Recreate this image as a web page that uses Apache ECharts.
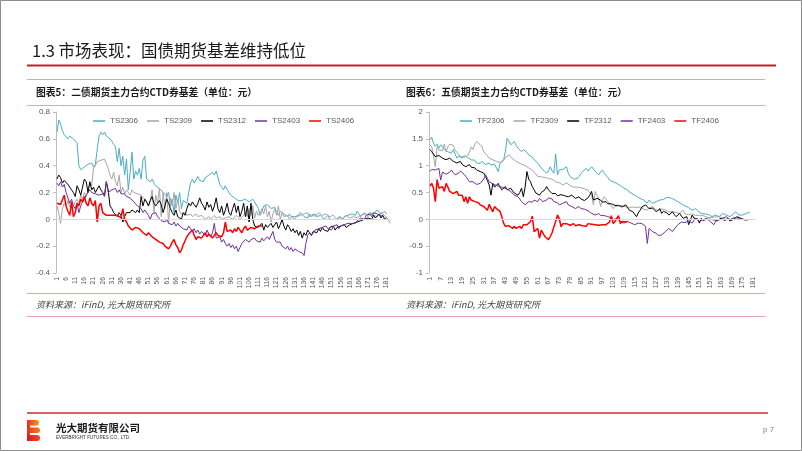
<!DOCTYPE html>
<html><head><meta charset="utf-8">
<script src="https://cdn.jsdelivr.net/npm/echarts@6/dist/echarts.min.js"></script>
<style>html,body{margin:0;padding:0;background:#fff}#c{width:802px;height:451px}</style>
</head><body><div id="c"></div>
<script>
// ---- categories ----
const catsTS = Array.from({length:183},(_,i)=>String(i+1));
const catsTF = Array.from({length:182},(_,i)=>String(i+1));
const yTicksTS = [-0.4,-0.2,0,0.2,0.4,0.6,0.8];
const yTicksTF = [-1,-0.5,0,0.5,1,1.5,2];
const namesTS = ['TS2306','TS2309','TS2312','TS2403','TS2406'];
const namesTF = ['TF2306','TF2309','TF2312','TF2403','TF2406'];

// ---- 2-year (TS) basis ----
const TS2306 = [0.65,0.74,0.71,0.66,0.63,0.62,0.60,0.62,0.61,0.60,
0.61,0.57,0.40,0.37,0.38,0.39,0.38,0.41,0.40,0.42,
0.39,0.41,0.52,0.62,0.65,0.63,0.65,0.62,0.61,0.60,
0.58,0.56,0.54,0.43,0.53,0.40,0.47,0.33,0.45,0.22,
0.35,0.50,0.30,0.36,0.33,0.38,0.30,0.44,0.47,0.30,
0.31,0.28,0.30,0.27,0.25,0.26,0.23,0.22,0.20,0.19,
0.17,0.20,0.10,0.15,0.05,0.18,0.12,0.20,0.08,0.14,
0.15,0.12,0.20,0.27,0.30,0.27,0.28,0.32,0.29,0.30,
0.28,0.31,0.30,0.33,0.34,0.35,0.33,0.36,0.35,0.26,
0.24,0.22,0.25,0.22,0.20,0.18,0.19,0.16,0.15,0.14,
0.13,0.14,0.13,0.15,0.14,0.13,0.14,0.15,0.13,0.14,
0.08,0.03,0.06,0.10,0.09,0.11,0.10,0.08,0.07,0.09,
0.05,0.03,0.06,0.05,0.04,0.03,0.02,0.04,0.02,0.03,
0.02,0.01,0.03,0.05,0.04,0.02,0.03,0.01,0.04,0.02,
0.03,0.04,0.02,0.01,0.03,0.02,0.00,0.01,0.03,0.00,
0.01,0.00,-0.01,0.00,0.02,0.01,0.00,0.02,0.01,0.03,
0.02,0.04,0.05,0.03,0.06,0.04,0.02,0.03,0.05,0.03,
0.04,0.05,0.06,0.04,0.05,0.07,0.06,0.04,0.05,0.06,
0.04];
const TS2309 = [0.10,0.05,-0.03,0.08,0.12,0.10,0.14,0.09,0.12,0.10,
0.13,0.15,0.12,0.18,0.15,0.20,0.17,0.22,0.27,0.25,
0.38,0.40,0.43,0.42,0.44,0.43,0.45,0.44,0.38,0.33,
0.30,0.35,0.28,0.25,0.33,0.20,0.24,0.19,0.22,0.20,
0.18,0.22,0.20,0.21,0.19,0.20,0.18,0.17,0.15,0.13,
0.10,0.14,0.22,0.05,0.18,0.12,0.23,0.02,0.20,0.08,
0.20,-0.03,0.16,0.10,0.20,0.08,0.15,0.06,0.04,0.03,
0.05,0.03,0.02,0.04,0.02,0.03,0.04,0.02,0.01,0.03,
0.02,0.00,0.01,0.02,0.00,0.01,0.03,0.01,0.00,0.02,
0.00,-0.01,0.01,0.00,0.02,0.01,0.00,0.01,0.03,0.02,
0.00,0.01,0.03,0.05,0.02,0.08,0.03,0.10,0.01,0.06,
0.03,0.05,0.08,0.04,0.10,0.02,0.06,-0.02,0.04,0.08,
0.03,0.10,0.00,0.05,0.02,0.01,0.03,0.00,0.02,0.01,
0.00,0.02,0.01,0.03,0.02,0.04,0.03,0.05,0.02,0.03,
0.04,0.02,0.03,0.05,0.04,0.03,0.02,0.04,0.03,0.02,
0.01,0.03,0.02,0.00,0.01,0.02,0.00,0.01,0.03,0.02,
0.01,0.00,0.02,0.03,0.01,0.02,0.03,0.02,0.04,0.03,
0.02,0.04,0.05,0.03,0.04,0.02,0.03,0.05,0.04,0.03,
0.02,0.00,-0.03];
const TS2312 = [0.30,0.33,0.31,0.27,0.29,0.30,0.26,0.25,0.22,0.20,
0.17,0.25,0.22,0.18,0.24,0.30,0.28,0.20,0.28,0.22,
0.24,0.20,0.21,0.25,0.22,0.20,0.18,0.28,0.22,0.10,
0.08,0.05,0.04,0.02,0.05,0.03,-0.02,0.02,0.05,0.06,
0.05,0.07,0.06,0.05,0.07,0.05,0.17,0.10,0.15,0.13,
0.10,0.14,0.17,0.12,0.10,0.12,0.14,0.11,0.05,0.10,
0.15,0.12,0.08,0.05,0.03,0.07,0.02,0.01,0.00,0.05,
0.03,0.08,0.12,0.10,0.13,0.11,0.09,0.12,0.16,0.12,
0.10,0.07,0.13,0.09,0.11,0.06,0.10,0.16,0.08,0.05,
0.10,0.03,0.07,0.12,0.05,0.03,0.08,0.12,0.05,0.10,
0.02,0.06,0.12,0.02,0.10,-0.02,0.12,0.00,-0.05,-0.04,
-0.06,-0.05,-0.03,-0.08,-0.04,-0.06,-0.05,-0.03,-0.06,-0.05,
-0.02,-0.07,-0.04,0.00,-0.05,-0.08,-0.04,-0.06,-0.09,-0.07,
-0.10,-0.08,-0.12,-0.09,-0.14,-0.10,-0.12,-0.08,-0.10,-0.12,
-0.09,-0.08,-0.10,-0.07,-0.09,-0.06,-0.08,-0.07,-0.09,-0.06,
-0.07,-0.05,-0.08,-0.06,-0.07,-0.05,-0.06,-0.04,-0.06,-0.05,
-0.04,-0.05,-0.03,-0.04,-0.02,-0.03,-0.01,-0.02,0.00,-0.01,
0.01,0.02,0.00,0.03,0.01,0.02,0.04,0.01,0.03,0.00,
0.01];
const TS2403 = [0.27,0.25,0.28,0.24,0.26,0.20,0.16,0.12,0.15,0.10,
0.08,0.12,0.05,0.10,0.13,0.15,0.18,0.20,0.22,0.20,
0.21,0.19,0.20,0.18,0.17,0.19,0.17,0.28,0.20,0.19,
0.22,0.21,0.23,0.20,0.22,0.19,0.18,0.19,0.17,0.18,
0.16,0.15,0.13,0.12,0.10,0.11,0.08,0.05,0.07,0.06,
0.03,0.00,0.04,0.03,0.05,0.02,0.03,-0.01,0.00,-0.02,
0.00,-0.03,-0.02,-0.04,-0.02,-0.05,-0.03,-0.05,-0.04,-0.07,
-0.06,-0.08,-0.05,-0.07,-0.09,-0.07,-0.10,-0.08,-0.11,-0.09,
-0.10,-0.12,-0.08,-0.11,-0.13,-0.10,-0.03,-0.14,-0.15,-0.13,
-0.17,-0.15,-0.18,-0.20,-0.18,-0.21,-0.19,-0.22,-0.20,-0.24,
-0.21,-0.18,-0.17,-0.15,-0.16,-0.17,-0.15,-0.16,-0.14,-0.16,
-0.15,-0.17,-0.14,-0.16,-0.15,-0.13,-0.15,-0.14,-0.09,-0.15,
-0.17,-0.18,-0.17,-0.20,-0.19,-0.22,-0.20,-0.23,-0.21,-0.24,
-0.22,-0.21,-0.24,-0.23,-0.25,-0.27,-0.18,-0.12,-0.10,-0.12,
-0.10,-0.08,-0.09,-0.07,-0.08,-0.06,-0.07,-0.05,-0.07,-0.06,
-0.08,-0.05,-0.06,-0.04,-0.07,-0.05,-0.06,-0.04,-0.05,-0.03,
-0.04,-0.03,-0.02,-0.03,-0.01,0.00,0.01,0.02,0.00,0.03,
0.03,0.04,0.02,0.05,0.06,0.04,0.05,0.03,0.02,0.01,
0.00];
const TS2406 = [0.12,0.13,0.11,0.12,0.18,0.10,0.06,0.03,0.13,0.02,
0.05,0.12,0.10,0.15,0.13,0.17,0.12,0.10,0.16,0.12,
0.10,0.14,-0.02,0.10,0.12,0.05,0.04,0.03,0.04,0.03,
0.04,0.03,0.02,0.03,0.02,0.01,0.08,0.00,-0.02,-0.05,
-0.06,-0.08,-0.07,-0.06,-0.05,-0.07,-0.08,-0.10,-0.09,-0.12,
-0.10,-0.11,-0.13,-0.12,-0.15,-0.14,-0.17,-0.16,-0.18,-0.20,
-0.19,-0.22,-0.20,-0.17,-0.15,-0.19,-0.21,-0.25,-0.23,-0.19,
-0.16,-0.13,-0.11,-0.10,-0.08,-0.12,-0.15,-0.13,-0.12,-0.14,
-0.12,-0.10,-0.13,-0.11,-0.12,-0.14,-0.12,-0.10,-0.12,-0.11,
-0.13,-0.10,-0.02,-0.09,-0.10,-0.08,-0.10,-0.07,-0.09,-0.06,
-0.08,-0.10,-0.07,-0.05,-0.08,-0.07,-0.06,-0.05,-0.07,-0.06,
-0.05,-0.06,-0.05];

// ---- 5-year (TF) basis ----
const TF2306 = [1.48,1.53,1.42,1.36,1.40,1.33,1.39,1.35,1.30,1.32,
1.26,1.28,1.23,1.30,1.22,1.14,1.18,1.20,1.14,1.19,
1.17,1.15,1.12,1.11,1.08,1.10,1.05,1.07,1.04,1.08,
1.05,1.02,1.04,1.05,1.01,0.98,1.03,1.05,0.89,1.04,
1.02,1.10,1.26,1.51,1.45,1.39,1.42,1.45,1.38,1.33,
1.30,1.26,1.30,1.33,1.25,1.20,1.23,1.16,1.11,1.08,
1.05,1.02,0.96,0.92,0.95,0.86,0.90,0.98,0.90,0.86,
1.22,0.83,0.92,0.95,0.93,0.92,0.98,0.86,0.80,0.77,
0.75,0.73,0.76,0.80,0.85,0.89,0.92,0.95,0.90,0.92,
0.98,0.94,0.89,0.86,0.83,0.88,0.92,0.86,0.83,0.78,
0.73,0.75,0.70,0.72,0.67,0.65,0.63,0.60,0.58,0.56,
0.55,0.51,0.48,0.47,0.45,0.43,0.42,0.39,0.38,0.36,
0.33,0.30,0.36,0.34,0.30,0.32,0.33,0.35,0.36,0.33,
0.37,0.39,0.41,0.42,0.40,0.39,0.37,0.36,0.33,0.30,
0.29,0.27,0.25,0.24,0.22,0.20,0.17,0.19,0.20,0.16,
0.14,0.11,0.08,0.10,0.11,0.09,0.08,0.05,0.07,0.08,
0.06,0.05,0.08,0.11,0.09,0.08,0.06,0.05,0.08,0.10,
0.14,0.12,0.08,0.09,0.08,0.10,0.11,0.12,0.13];
const TF2309 = [1.39,1.35,1.18,0.98,1.35,1.29,1.32,1.28,1.40,1.26,
1.35,1.40,1.42,1.38,1.29,1.25,1.22,1.17,1.20,1.16,
1.14,1.18,1.25,1.35,1.30,1.40,1.45,1.48,1.39,1.35,
1.26,1.22,1.20,1.14,1.16,1.11,1.09,1.08,1.10,1.06,
1.05,1.10,1.15,1.17,1.20,1.16,1.14,1.10,1.08,1.06,
1.05,1.03,1.02,1.00,0.98,0.96,0.95,0.92,0.88,0.86,
0.80,0.83,0.79,0.77,0.78,0.75,0.76,0.73,0.75,0.72,
0.70,0.72,0.68,0.66,0.64,0.66,0.68,0.67,0.63,0.62,
0.60,0.58,0.60,0.62,0.59,0.61,0.57,0.55,0.54,0.52,
0.45,0.27,0.52,0.45,0.39,0.24,0.35,0.42,0.38,0.33,
0.30,0.25,0.20,0.24,0.27,0.25,0.24,0.26,0.27,0.23,
0.20,0.22,0.25,0.23,0.24,0.22,0.21,0.23,0.20,0.19,
0.20,0.17,0.21,0.19,0.24,0.20,0.18,0.16,0.17,0.19,
0.20,0.18,0.16,0.14,0.15,0.14,0.12,0.13,0.10,0.11,
0.14,0.17,0.10,0.08,0.09,0.11,0.10,0.08,0.07,0.09,
0.08,0.06,0.07,0.05,0.04,0.05,0.03,0.02,0.04,0.02,
0.05,0.03,0.04,0.02,0.01,0.02,0.00,-0.01,0.01,0.02,
0.00,0.02,0.01,0.00,-0.01];
const TF2312 = [1.30,1.26,1.23,1.17,1.20,1.19,1.16,1.14,1.15,1.11,
1.10,1.14,1.12,1.08,1.06,1.05,1.07,1.08,1.02,1.04,
0.98,1.00,1.02,0.97,0.95,0.96,0.92,0.94,0.89,0.90,
0.86,0.80,0.72,0.64,0.45,0.67,0.60,0.58,0.67,0.60,
0.55,0.58,0.61,0.55,0.52,0.58,0.53,0.49,0.52,0.45,
0.50,0.58,0.42,0.60,0.89,0.75,0.70,0.61,0.55,0.49,
0.52,0.45,0.50,0.48,0.55,0.61,0.55,0.52,0.48,0.45,
0.48,0.44,0.42,0.46,0.48,0.44,0.45,0.42,0.40,0.45,
0.42,0.39,0.41,0.42,0.38,0.39,0.35,0.33,0.40,0.45,
0.52,0.36,0.38,0.39,0.37,0.36,0.32,0.30,0.33,0.29,
0.27,0.29,0.30,0.26,0.24,0.26,0.27,0.23,0.20,0.27,
0.22,0.17,0.19,0.14,0.12,0.05,0.12,0.17,0.23,0.25,
0.27,0.24,0.20,0.23,0.21,0.18,0.14,0.17,0.20,0.11,
0.15,0.17,0.12,0.08,0.11,0.14,0.09,0.05,0.08,0.11,
0.06,0.02,0.04,0.05,-0.10,-0.01,0.08,0.02,-0.01,0.01,
-0.07,0.02,-0.02,-0.04,0.00,0.02,0.00,-0.03,-0.01,-0.04,
-0.02,0.01,0.02,0.00,-0.02,-0.01,0.01,-0.03,-0.04,0.00,
-0.01,0.05,0.02,0.02,0.00,-0.01,-0.01,-0.01];
const TF2403 = [0.89,0.93,0.95,0.92,0.94,0.95,0.73,0.88,0.86,0.84,
0.83,0.88,0.92,0.87,0.83,0.85,0.86,0.90,0.89,0.84,
0.80,0.75,0.70,0.73,0.70,0.67,0.65,0.64,0.67,0.70,
0.75,0.83,0.76,0.70,0.67,0.66,0.64,0.63,0.62,0.61,
0.60,0.59,0.58,0.56,0.55,0.52,0.50,0.45,0.44,0.42,
0.38,0.33,0.30,0.27,0.30,0.33,0.30,0.32,0.36,0.38,
0.33,0.39,0.36,0.33,0.35,0.36,0.40,0.42,0.38,0.33,
0.36,0.31,0.27,0.29,0.30,0.32,0.33,0.27,0.26,0.24,
0.22,0.20,0.23,0.24,0.20,0.17,0.19,0.20,0.16,0.14,
0.11,0.10,0.08,0.10,0.11,0.07,0.05,0.07,0.08,0.05,
0.02,0.03,-0.01,0.00,0.02,-0.01,-0.04,-0.05,-0.07,-0.05,
-0.04,-0.06,-0.07,-0.09,-0.10,-0.08,-0.07,-0.04,-0.08,-0.10,
-0.13,-0.45,-0.17,-0.20,-0.23,-0.25,-0.26,-0.30,-0.32,-0.29,
-0.26,-0.23,-0.20,-0.17,-0.20,-0.23,-0.18,-0.14,-0.10,-0.07,
-0.05,-0.04,-0.06,-0.07,-0.03,-0.01,-0.07,-0.02,0.02,-0.01,
-0.04,-0.02,-0.01,0.01,0.02,0.00,-0.04,-0.07,-0.10,-0.04,
-0.02,-0.01,0.00,0.02,0.03,0.05,0.02,-0.01,0.02,0.03,
0.05,0.03,0.02,0.01,-0.01,0.00];
const TF2406 = [0.62,0.67,0.58,0.33,0.74,0.58,0.55,0.61,0.52,0.67,
0.60,0.52,0.50,0.48,0.51,0.52,0.45,0.42,0.45,0.33,
0.42,0.30,0.42,0.36,0.34,0.33,0.30,0.31,0.27,0.28,
0.24,0.27,0.17,0.28,0.30,0.14,0.24,0.20,0.17,0.15,
0.05,-0.07,-0.13,-0.10,-0.12,-0.15,-0.17,-0.13,-0.17,-0.15,
-0.13,-0.17,-0.10,-0.13,-0.10,-0.08,-0.04,0.06,-0.23,-0.26,
-0.17,-0.35,-0.20,-0.17,-0.32,-0.29,-0.38,-0.32,-0.25,-0.14,
-0.04,0.08,0.02,-0.14,-0.08,-0.11,-0.08,-0.10,-0.11,-0.09,
-0.08,-0.12,-0.14,-0.10,-0.09,-0.12,-0.10,-0.13,-0.08,-0.11,
-0.09,-0.12,-0.10,-0.08,-0.11,-0.09,-0.10,-0.08,-0.10,-0.07,
-0.05,0.07,-0.08,-0.04,-0.06,0.07,-0.08,-0.04,-0.06,-0.05,
-0.04];

const colors = ['#4bacc6','#a5a5a5','#000000','#7030a0','#ff0000'];
const dataTS = [TS2306,TS2309,TS2312,TS2403,TS2406];
const dataTF = [TF2306,TF2309,TF2312,TF2403,TF2406];

const chart = echarts.init(document.getElementById('c'), null, {renderer:'canvas'});
const axisFont = 'Liberation Sans';
function mkX(idx, cats, interval){
  return {type:'category', gridIndex:idx, data:cats, boundaryGap:true,
    axisLine:{show:false}, axisTick:{show:false}, splitLine:{show:false},
    axisLabel:{interval:interval, rotate:90, fontSize:6.8, color:'#595959', margin:4, fontFamily:axisFont}};
}
function mkY(idx, min, max, step){
  return {type:'value', gridIndex:idx, min:min, max:max, interval:step,
    axisLine:{show:true, lineStyle:{color:'#bfbfbf', width:1}},
    axisTick:{show:true, length:3, lineStyle:{color:'#bfbfbf'}},
    splitLine:{show:false},
    axisLabel:{fontSize:8, color:'#595959', margin:6, fontFamily:axisFont}};
}
const series = [];
function addSeries(names, data, gi){
  names.forEach((n,k)=>{
    const s = {name:n, type:'line', xAxisIndex:gi, yAxisIndex:gi, data:data[k],
      showSymbol:false, symbol:'none', animation:false,
      lineStyle:{color:colors[k], width: k===4 ? 1.5 : 1}, itemStyle:{color:colors[k]}};
    if(k===0){
      s.markLine = {silent:true, symbol:'none', animation:false, label:{show:false},
        lineStyle:{color:'#d9d9d9', type:'solid', width:1}, data:[{yAxis:0}]};
    }
    series.push(s);
  });
}
addSeries(namesTS, dataTS, 0);
addSeries(namesTF, dataTF, 1);

const pink = '#e8a3a8';
const cjk = '"Noto Sans CJK SC"';
function hline(y, x1, x2, color, w){
  return {type:'line', shape:{x1:x1,y1:y,x2:x2,y2:y}, style:{stroke:color, lineWidth:w}, silent:true};
}
const graphics = [
  {type:'rect', shape:{x:0.5,y:0.5,width:801,height:450}, style:{fill:'none', stroke:'#8c8c8c', lineWidth:1}, silent:true},
  {type:'text', x:32, y:51, style:{text:'1.3 市场表现：国债期货基差维持低位', font:'16.5px '+cjk, fill:'#1a1a1a', textVerticalAlign:'middle'}},
  hline(65.5, 27, 776, '#c0202a', 2),
  hline(79.5, 27, 765, pink, 1),
  hline(105.5, 27, 765, pink, 1),
  hline(293.5, 27, 765, pink, 1),
  hline(316.5, 27, 765, pink, 1),
  {type:'text', x:36, y:92, style:{text:'图表5：二债期货主力合约CTD券基差（单位：元）', font:'bold 9.8px '+cjk, fill:'#1a1a1a', textVerticalAlign:'middle'}},
  {type:'text', x:406, y:92, style:{text:'图表6：五债期货主力合约CTD券基差（单位：元）', font:'bold 9.8px '+cjk, fill:'#1a1a1a', textVerticalAlign:'middle'}},
  {type:'text', x:36, y:305, style:{text:'资料来源：iFinD, 光大期货研究所', font:'italic 9px '+cjk, fill:'#404040', textVerticalAlign:'middle'}},
  {type:'text', x:406, y:305, style:{text:'资料来源：iFinD, 光大期货研究所', font:'italic 9px '+cjk, fill:'#404040', textVerticalAlign:'middle'}},
  hline(413, 27, 768, '#d7262e', 1.5),
  // logo
  {type:'rect', shape:{x:27,y:420,width:3,height:21}, style:{fill:'#e8301c'}, silent:true},
  {type:'rect', shape:{x:27,y:420,width:12,height:5.5,r:[0,3,3,0]}, style:{fill:new echarts.graphic.LinearGradient(0,0,1,0,[{offset:0,color:'#e8301c'},{offset:1,color:'#f7941d'}])}, silent:true},
  {type:'rect', shape:{x:27,y:427.5,width:13,height:5.5,r:[0,3,3,0]}, style:{fill:new echarts.graphic.LinearGradient(0,0,1,0,[{offset:0,color:'#e8301c'},{offset:1,color:'#f47b20'}])}, silent:true},
  {type:'rect', shape:{x:27,y:435,width:13,height:6,r:[0,3,3,0]}, style:{fill:new echarts.graphic.LinearGradient(0,0,1,0,[{offset:0,color:'#d71920'},{offset:1,color:'#ef4a2a'}])}, silent:true},
  {type:'text', x:56, y:428.5, style:{text:'光大期货有限公司', font:'bold 10.5px '+cjk, fill:'#1a1a1a', textVerticalAlign:'middle'}},
  {type:'text', x:56, y:437.5, style:{text:'EVERBRIGHT FUTURES CO., LTD.', font:'4.6px "Liberation Sans"', fill:'#333', textVerticalAlign:'middle'}},
  {type:'text', x:763, y:430, style:{text:'p 7', font:'8px "Liberation Sans"', fill:'#7f7f7f', textVerticalAlign:'middle'}}
];

const legendBase = {orient:'horizontal', icon:'rect', itemWidth:12, itemHeight:1.5, itemGap:9,
  textStyle:{fontSize:8, color:'#595959', fontFamily:axisFont}, selectedMode:false};

chart.setOption({
  animation:false,
  backgroundColor:'#ffffff',
  color:colors,
  grid:[
    {left:56, top:112, width:335, height:161, containLabel:false},
    {left:429, top:112, width:327, height:161, containLabel:false}
  ],
  legend:[
    Object.assign({}, legendBase, {data:namesTS, left:88, top:112}),
    Object.assign({}, legendBase, {data:namesTF, left:455, top:112})
  ],
  xAxis:[mkX(0, catsTS, 4), mkX(1, catsTF, 5)],
  yAxis:[mkY(0, yTicksTS[0], yTicksTS[yTicksTS.length-1], 0.2), mkY(1, yTicksTF[0], yTicksTF[yTicksTF.length-1], 0.5)],
  series:series,
  graphic:graphics
});
</script>
</body></html>
